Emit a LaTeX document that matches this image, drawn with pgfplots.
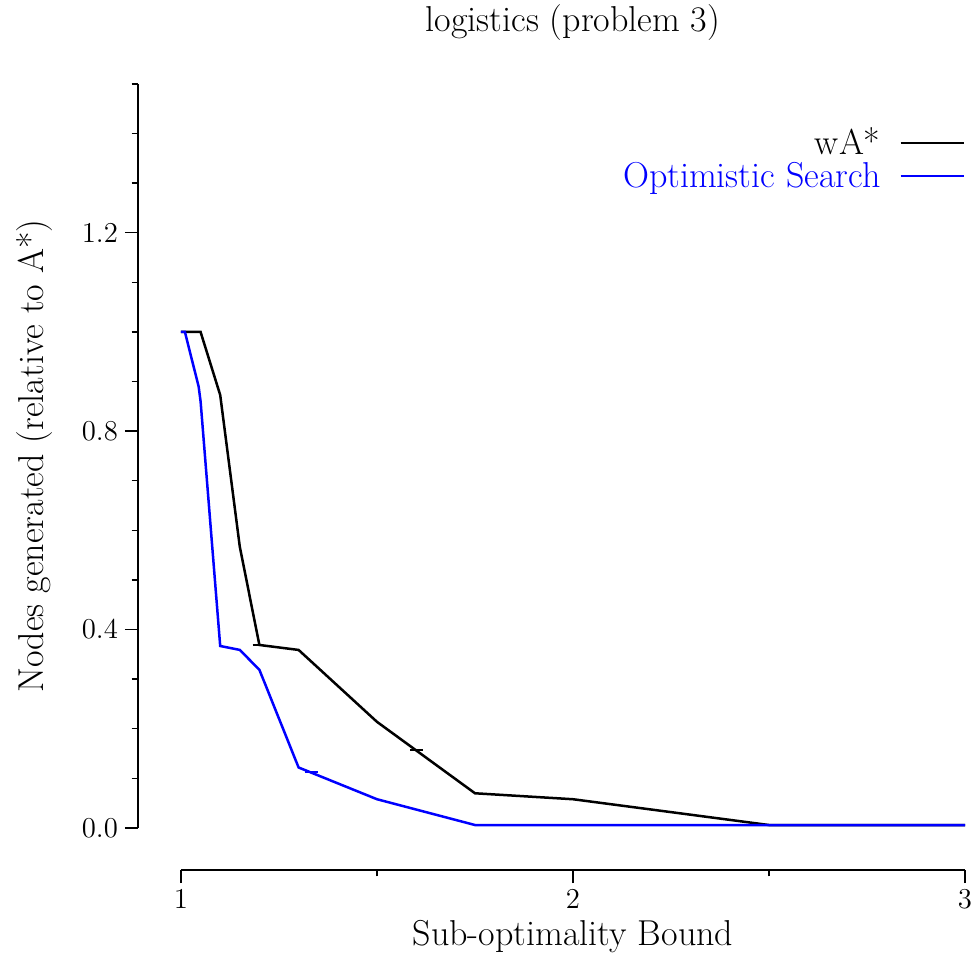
\documentclass[border=0pt]{standalone}
\usepackage{pgfplots}
\pgfplotsset{compat=1.18}

% Nodes generated relative to A*, per sub-optimality bound
\pgfplotstableread{
x     y
1.00  1.000
1.05  1.000
1.10  0.873
1.15  0.567
1.20  0.369
1.30  0.359
1.50  0.214
1.75  0.070
2.00  0.058
2.50  0.006
3.00  0.006
}\wastar

\pgfplotstableread{
x      y
1.000  1.000
1.010  1.000
1.045  0.890
1.050  0.860
1.100  0.367
1.150  0.359
1.200  0.319
1.300  0.122
1.500  0.058
1.750  0.006
2.000  0.006
2.500  0.006
3.000  0.006
}\optsearch

\newcommand{\bigfont}{\fontsize{18}{20}\selectfont}

\begin{document}
\begin{tikzpicture}
\begin{axis}[
  at={(0,0)}, anchor=south west,
  scale only axis,
  width=392pt, height=372pt,
  xmin=1, xmax=3, ymin=0, ymax=1.5,
  enlargelimits=false,
  axis lines=left,
  axis line style={-, line width=1pt},
  axis x line shift=21pt,
  axis y line shift=21.5pt,
  xtick={1,2,3}, minor xtick={1.5,2.5},
  ytick={0,0.4,0.8,1.2},
  minor ytick={0.1,0.2,0.3,0.5,0.6,0.7,0.9,1.0,1.1,1.3,1.4,1.5},
  tick align=outside,
  major tick length=6.5pt, minor tick length=3.2pt,
  every tick/.style={black, line width=0.7pt},
  yticklabel style={/pgf/number format/.cd, fixed, fixed zerofill, precision=1},
  xticklabel style={/pgf/number format/.cd, fixed, precision=0},
  tick label style={font=\fontsize{13.5}{15}\selectfont},
  title={logistics (problem 3)},
  title style={font=\bigfont, at={(0.5,1)}, anchor=base, yshift=20pt},
  xlabel={Sub-optimality Bound},
  xlabel style={font=\bigfont, at={(axis description cs:0.5,0)}, anchor=base, yshift=-59pt},
  ylabel={Nodes generated (relative to A*)},
  ylabel style={font=\bigfont, at={(axis description cs:0,0.5)}, anchor=center, yshift=73pt},
  legend style={draw=none, fill=none, at={(1,0.9463)}, anchor=north east,
    font=\bigfont, inner sep=0pt, outer sep=0pt, row sep=-2pt,
    /tikz/every odd column/.append style={column sep=7.5pt}},
  legend cell align=right,
  legend plot pos=right,
  legend image code/.code={\draw[#1] (0pt,0pt) -- (31.5pt,0pt);},
]
\addplot[black, line width=1.25pt] table[x=x, y=y] {\wastar};
\addlegendentry{wA*}
\addplot[blue, line width=1.25pt] table[x=x, y=y] {\optsearch};
\addlegendentry{\textcolor{blue}{Optimistic Search}}
% short horizontal marks along the curves
\addplot[black, line width=1.25pt, forget plot] coordinates {(1.183,0.369) (1.2,0.369)};
\addplot[black, line width=1.25pt, forget plot] coordinates {(1.585,0.157) (1.617,0.157)};
\addplot[blue, line width=1.25pt, forget plot] coordinates {(1.316,0.113) (1.349,0.113)};
\end{axis}
\pgfresetboundingbox
\useasboundingbox (-90.5pt,-70.5pt) rectangle (397pt,414pt);
\end{tikzpicture}
\end{document}
